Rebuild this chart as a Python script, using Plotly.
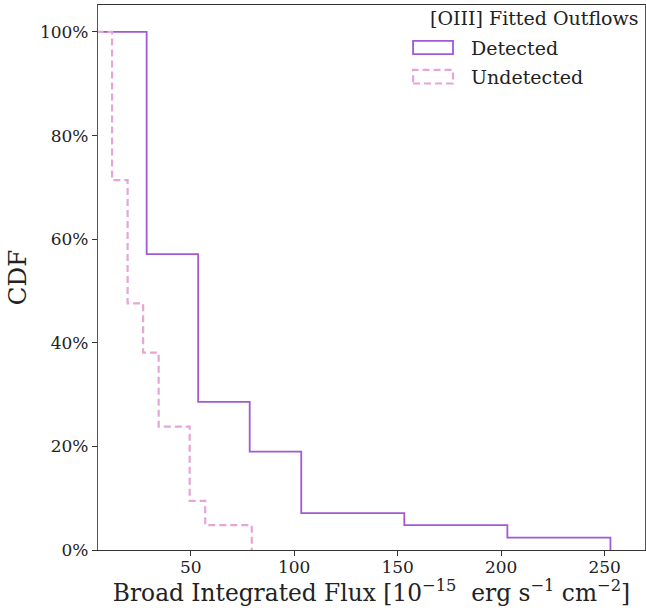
import plotly.graph_objects as go

# Bin edges (flux, 1e-15 erg s^-1 cm^-2) and complementary-CDF step values per bin
detected_edges = [3.8, 28.7, 53.6, 78.5, 103.4, 128.3, 153.2, 178.1, 203.0, 227.9, 252.8]
detected_values = [1.0, 0.571, 0.286, 0.190, 0.071, 0.071, 0.048, 0.048, 0.024, 0.024]

undetected_edges = [4.5, 12.0, 19.5, 27.0, 34.5, 42.0, 49.5, 57.0, 64.5, 72.0, 79.5]
undetected_values = [1.0, 0.714, 0.476, 0.381, 0.238, 0.238, 0.095, 0.048, 0.048, 0.048]

x_ticks = [50, 100, 150, 200, 250]
y_ticks = [0, 0.2, 0.4, 0.6, 0.8, 1.0]

det_color = "#a259d3"
undet_color = "#e3a6d6"
FONT = "DejaVu Serif"

fig = go.Figure()
fig.add_trace(go.Scatter(
    x=detected_edges, y=detected_values + [0.0],
    mode="lines", line=dict(shape="hv", color=det_color, width=1.8),
    name="Detected", showlegend=False, hoverinfo="skip"))
fig.add_trace(go.Scatter(
    x=undetected_edges, y=undetected_values + [0.0],
    mode="lines", line=dict(shape="hv", color=undet_color, width=2.2, dash="7px,4px"),
    name="Undetected", showlegend=False, hoverinfo="skip"))

# Manual legend (patch-style, as in the reference)
shapes = [
    dict(type="rect", xref="paper", yref="paper", x0=0.576, x1=0.649, y0=0.910, y1=0.934,
         line=dict(color=det_color, width=1.8), fillcolor="rgba(0,0,0,0)"),
    dict(type="rect", xref="paper", yref="paper", x0=0.576, x1=0.649, y0=0.856, y1=0.881,
         line=dict(color=undet_color, width=2.2, dash="7px,4px"), fillcolor="rgba(0,0,0,0)"),
]
annotations = [
    dict(text="[OIII] Fitted Outflows", xref="paper", yref="paper", x=0.993, y=0.977,
         xanchor="right", yanchor="middle", showarrow=False,
         font=dict(family=FONT, size=19, color="#222")),
    dict(text="Detected", xref="paper", yref="paper", x=0.678, y=0.922,
         xanchor="left", yanchor="middle", showarrow=False,
         font=dict(family=FONT, size=19, color="#222")),
    dict(text="Undetected", xref="paper", yref="paper", x=0.678, y=0.867,
         xanchor="left", yanchor="middle", showarrow=False,
         font=dict(family=FONT, size=19, color="#222")),
]

fig.update_layout(
    width=646, height=612,
    margin=dict(l=98, r=1, t=5, b=62),
    plot_bgcolor="white", paper_bgcolor="white",
    font=dict(family=FONT, color="#222"),
    shapes=shapes, annotations=annotations,
    showlegend=False,
)
fig.update_xaxes(
    range=[5.2, 269.5], tickvals=x_ticks, ticks="outside", ticklen=5, tickcolor="#333",
    tickfont=dict(family=FONT, size=17, color="#222"), ticklabelstandoff=-4,
    showgrid=False, zeroline=False, showline=True, linecolor="#333", linewidth=1.2, mirror=True,
    title=dict(text="Broad Integrated Flux [10<sup>\u221215</sup>  erg s<sup>\u22121</sup> cm<sup>\u22122</sup>]",
               font=dict(family=FONT, size=23.3, color="#222"), standoff=4),
)
fig.update_yaxes(
    range=[0, 1.052], tickvals=y_ticks, tickformat=".0%", ticks="outside", ticklen=5, tickcolor="#333",
    tickfont=dict(family=FONT, size=17, color="#222"),
    showgrid=False, zeroline=False, showline=True, linecolor="#555", linewidth=1.2, mirror=True,
    title=dict(text="CDF", font=dict(family=FONT, size=24.5, color="#222"), standoff=6),
)

fig.write_html("out.html")
